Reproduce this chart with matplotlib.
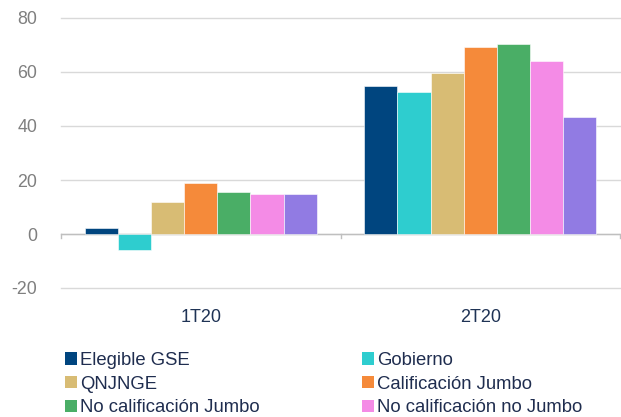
import matplotlib
matplotlib.use("Agg")
import matplotlib.pyplot as plt
import numpy as np
from matplotlib.patches import Patch

plt.rcParams['font.family'] = ['Liberation Sans', 'DejaVu Sans']

categories = ["1T20", "2T20"]
series_names = ["Elegible GSE", "Gobierno", "QNJNGE", "Calificación Jumbo",
                "No calificación Jumbo", "No calificación no Jumbo", None]
elegible_gse = [2.2, 55.0]
gobierno = [-6.1, 52.7]
qnjnge = [11.9, 59.7]
calificacion_jumbo = [18.9, 69.1]
no_calif_jumbo = [15.6, 70.5]
no_calif_no_jumbo = [14.7, 63.9]
otros = [14.7, 43.2]
series_values = [elegible_gse, gobierno, qnjnge, calificacion_jumbo,
                 no_calif_jumbo, no_calif_no_jumbo, otros]
colors = ["#00457F", "#2ECDCF", "#D8BC74", "#F58A3A", "#4AAE66", "#F48BE6", "#917BE3"]
y_ticks = [-20, 0, 20, 40, 60, 80]

fig = plt.figure(figsize=(6.21, 4.17), dpi=100)
ax = fig.add_axes([61 / 621, 1 - 288 / 417, 559 / 621, 270 / 417])

n = len(series_values)
group_w = 0.83
bar_w = group_w / n
x = np.arange(len(categories))
for i, (vals, c) in enumerate(zip(series_values, colors)):
    offs = -group_w / 2 + bar_w * (i + 0.5)
    ax.bar(x + offs, vals, width=bar_w, color=c, edgecolor="white",
           linewidth=0.4, zorder=3)

ax.set_xlim(-0.5, len(categories) - 0.5)
ax.set_ylim(-20, 80)
ax.set_yticks(y_ticks)
ax.set_yticklabels([str(t) for t in y_ticks])
ax.yaxis.grid(True, color="#D9D9D9", linewidth=1.0, zorder=0)
for gl in ax.get_ygridlines():
    gl.set_clip_on(False)
ax.set_axisbelow(True)
for s in ax.spines.values():
    s.set_visible(False)
ax.tick_params(axis="y", length=0, pad=17, labelsize=12.8, labelcolor="#7F7F7F")

ax.set_xticks(x)
ax.set_xticklabels(categories)
ax.tick_params(axis="x", length=0, pad=15, labelsize=13, labelcolor="#1F3355")

# zero baseline with category divider ticks
ax.axhline(0, color="#BFBFBF", linewidth=1.0, zorder=2)
for b in np.arange(len(categories) + 1) - 0.5:
    ax.plot([b, b], [0, -1.3], color="#BFBFBF", linewidth=1.0, zorder=2,
            clip_on=False)

# legend arranged row by row in two columns
order = [0, 2, 4, 1, 3, 5]
handles = [Patch(facecolor=colors[i], edgecolor="none") for i in order]
labels = [series_names[i] for i in order]
fig.legend(handles, labels, ncol=2, loc="upper left",
           bbox_to_anchor=(65 / 621, 1 - 352 / 417), frameon=False,
           fontsize=13.3, labelcolor="#1F2D4F", handlelength=0.65,
           handleheight=0.65, handletextpad=0.16, columnspacing=5.57,
           labelspacing=0.36, borderpad=0, borderaxespad=0)

fig.savefig("out.png", dpi=100)
